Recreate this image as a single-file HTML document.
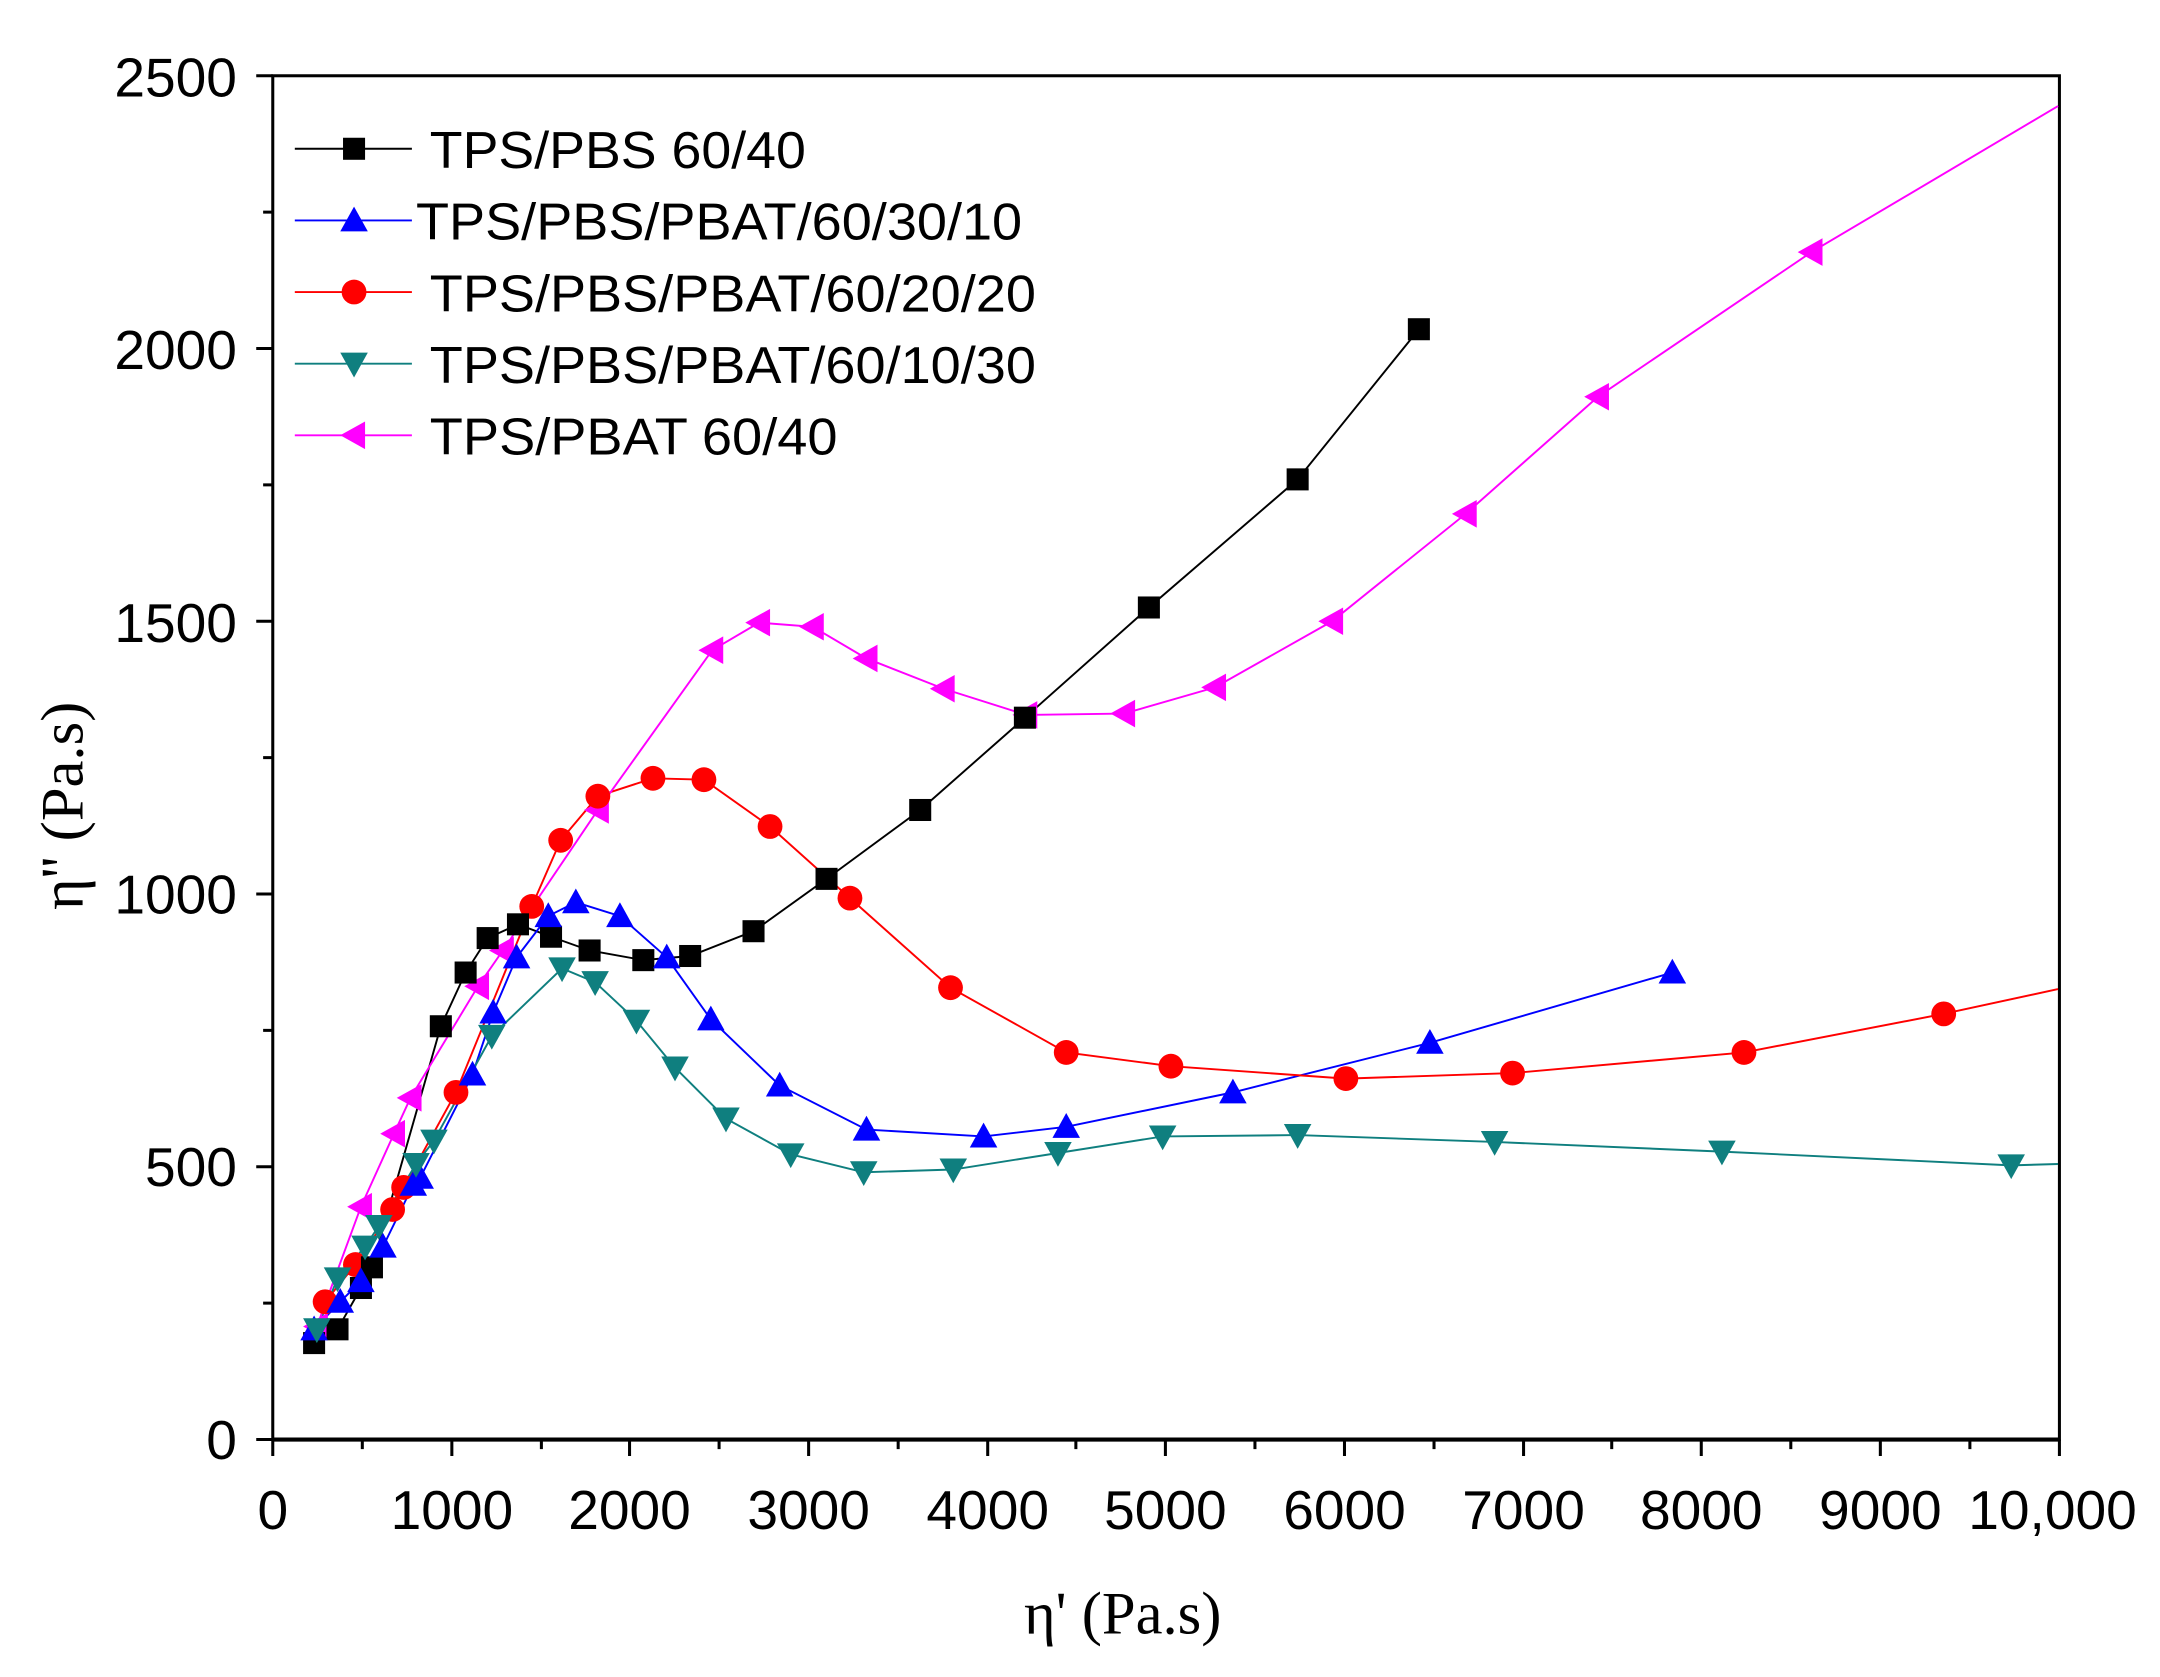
<!DOCTYPE html>
<html><head><meta charset="utf-8"><style>html,body{margin:0;padding:0;background:#fff}svg{display:block}</style></head>
<body>
<svg width="2160" height="1677" viewBox="0 0 1568 1217.4" xmlns="http://www.w3.org/2000/svg">
<defs>
<rect id="sq" x="-8" y="-8" width="16" height="16" fill="#000"/>
<polygon id="tu" points="0,-10 10,8 -10,8" fill="#0000ff"/>
<circle id="ci" r="9" fill="#ff0000"/>
<polygon id="td" points="-10,-8 10,-8 0,10" fill="#0f7f7f"/>
<polygon id="tl" points="-10,0 8,-10 8,10" fill="#ff00ff"/>
</defs>
<g font-family="Liberation Sans, Arial, sans-serif" font-size="40" fill="#000">
<g text-anchor="end">
<text x="172" y="1059">0</text><text x="172" y="861">500</text><text x="172" y="663">1000</text><text x="172" y="466">1500</text><text x="172" y="268">2000</text><text x="172" y="70">2500</text>
</g>
<g text-anchor="middle">
<text x="198" y="1110">0</text><text x="328" y="1110">1000</text><text x="457" y="1110">2000</text><text x="587" y="1110">3000</text><text x="717" y="1110">4000</text><text x="846" y="1110">5000</text><text x="976" y="1110">6000</text><text x="1106" y="1110">7000</text><text x="1235" y="1110">8000</text><text x="1365" y="1110">9000</text><text x="1490" y="1110">10,000</text>
</g>
</g>
<g font-family="Liberation Serif, Times New Roman, serif" font-size="44" fill="#000">
<text x="815" y="1186" text-anchor="middle">η' (Pa.s)</text>
<text transform="translate(60,585) rotate(-90)" text-anchor="middle">η'' (Pa.s)</text>
</g>
<g stroke="#000" stroke-width="2.2" fill="none">
<rect x="198" y="55" width="1297" height="990"/>
<line x1="198" y1="1045" x2="1495" y2="1045" stroke-width="3"/>
<path d="M198,1045h-12M198,847h-12M198,649h-12M198,451h-12M198,253h-12M198,55h-12M198,946h-7M198,748h-7M198,550h-7M198,352h-7M198,154h-7"/>
<path d="M198,1045v12M328,1045v12M457,1045v12M587,1045v12M717,1045v12M846,1045v12M976,1045v12M1106,1045v12M1235,1045v12M1365,1045v12M1495,1045v12M263,1045v7M393,1045v7M522,1045v7M652,1045v7M781,1045v7M911,1045v7M1041,1045v7M1170,1045v7M1300,1045v7M1430,1045v7"/>
</g>
<g fill="none" stroke-width="1.4">
<polyline stroke="#000" points="228,975 245,965 262,935 270,920 320,745 338,706 354,681 376,671 400,680 428,690 467,697 501,694 547,676 600,638 668,588 744,521 834,441 942,348 1030,239"/>
<polyline stroke="#0000ff" points="228,965 247,945 262,930 278,905 300,860 305,855 343,780 358,735 375,695 398,665 418,655 450,665 484,695 516,740 566,788 629,820 714,825 774,818 895,793 1038,757 1214,706"/>
<polyline stroke="#ff0000" points="236,945 258,918 285,878 293,862 331,793 386,658 407,610 434,578 474,565 511,566 559,600 617,652 690,717 774,764 850,774 977,783 1098,779 1266,764 1411,736 1494,718"/>
<polyline stroke="#0f7f7f" points="230,965 245,928 265,905 275,890 302,845 315,828 357,752 408,703 432,713 462,741 490,775 527,812 574,838 627,851 692,849 768,837 844,825 942,824 1085,829 1250,836 1460,846 1494,845"/>
<polyline stroke="#ff00ff" points="230,963 262,876 286,823 298,797 347,716 365,690 434,588 517,472 551,452 590,455 629,478 685,500 745,519 816,518 882,499 967,451 1064,373 1160,288 1315,183 1494,77"/>
</g>
<g>
<use href="#tl" x="230" y="963"/><use href="#tl" x="262" y="876"/><use href="#tl" x="286" y="823"/><use href="#tl" x="298" y="797"/><use href="#tl" x="347" y="716"/><use href="#tl" x="365" y="690"/><use href="#tl" x="434" y="588"/><use href="#tl" x="517" y="472"/><use href="#tl" x="551" y="452"/><use href="#tl" x="590" y="455"/><use href="#tl" x="629" y="478"/><use href="#tl" x="685" y="500"/><use href="#tl" x="745" y="519"/><use href="#tl" x="816" y="518"/><use href="#tl" x="882" y="499"/><use href="#tl" x="967" y="451"/><use href="#tl" x="1064" y="373"/><use href="#tl" x="1160" y="288"/><use href="#tl" x="1315" y="183"/>
<use href="#ci" x="236" y="945"/><use href="#ci" x="258" y="918"/><use href="#ci" x="285" y="878"/><use href="#ci" x="293" y="862"/><use href="#ci" x="331" y="793"/><use href="#ci" x="386" y="658"/><use href="#ci" x="407" y="610"/><use href="#ci" x="434" y="578"/><use href="#ci" x="474" y="565"/><use href="#ci" x="511" y="566"/><use href="#ci" x="559" y="600"/><use href="#ci" x="617" y="652"/><use href="#ci" x="690" y="717"/><use href="#ci" x="774" y="764"/><use href="#ci" x="850" y="774"/><use href="#ci" x="977" y="783"/><use href="#ci" x="1098" y="779"/><use href="#ci" x="1266" y="764"/><use href="#ci" x="1411" y="736"/>
<use href="#sq" x="228" y="975"/><use href="#sq" x="245" y="965"/><use href="#sq" x="262" y="935"/><use href="#sq" x="270" y="920"/><use href="#sq" x="320" y="745"/><use href="#sq" x="338" y="706"/><use href="#sq" x="354" y="681"/><use href="#sq" x="376" y="671"/><use href="#sq" x="400" y="680"/><use href="#sq" x="428" y="690"/><use href="#sq" x="467" y="697"/><use href="#sq" x="501" y="694"/><use href="#sq" x="547" y="676"/><use href="#sq" x="600" y="638"/><use href="#sq" x="668" y="588"/><use href="#sq" x="744" y="521"/><use href="#sq" x="834" y="441"/><use href="#sq" x="942" y="348"/><use href="#sq" x="1030" y="239"/>
<use href="#tu" x="228" y="965"/><use href="#tu" x="247" y="945"/><use href="#tu" x="262" y="930"/><use href="#tu" x="278" y="905"/><use href="#tu" x="300" y="860"/><use href="#tu" x="305" y="855"/><use href="#tu" x="343" y="780"/><use href="#tu" x="358" y="735"/><use href="#tu" x="375" y="695"/><use href="#tu" x="398" y="665"/><use href="#tu" x="418" y="655"/><use href="#tu" x="450" y="665"/><use href="#tu" x="484" y="695"/><use href="#tu" x="516" y="740"/><use href="#tu" x="566" y="788"/><use href="#tu" x="629" y="820"/><use href="#tu" x="714" y="825"/><use href="#tu" x="774" y="818"/><use href="#tu" x="895" y="793"/><use href="#tu" x="1038" y="757"/><use href="#tu" x="1214" y="706"/>
<use href="#td" x="230" y="965"/><use href="#td" x="245" y="928"/><use href="#td" x="265" y="905"/><use href="#td" x="275" y="890"/><use href="#td" x="302" y="845"/><use href="#td" x="315" y="828"/><use href="#td" x="357" y="752"/><use href="#td" x="408" y="703"/><use href="#td" x="432" y="713"/><use href="#td" x="462" y="741"/><use href="#td" x="490" y="775"/><use href="#td" x="527" y="812"/><use href="#td" x="574" y="838"/><use href="#td" x="627" y="851"/><use href="#td" x="692" y="849"/><use href="#td" x="768" y="837"/><use href="#td" x="844" y="825"/><use href="#td" x="942" y="824"/><use href="#td" x="1085" y="829"/><use href="#td" x="1250" y="836"/><use href="#td" x="1460" y="846"/>
</g>
<g stroke-width="1.4">
<line x1="214" y1="108" x2="299" y2="108" stroke="#000"/>
<line x1="214" y1="160" x2="299" y2="160" stroke="#0000ff"/>
<line x1="214" y1="212" x2="299" y2="212" stroke="#ff0000"/>
<line x1="214" y1="264" x2="299" y2="264" stroke="#0f7f7f"/>
<line x1="214" y1="316" x2="299" y2="316" stroke="#ff00ff"/>
</g>
<use href="#sq" x="257" y="108"/><use href="#tu" x="257" y="160"/><use href="#ci" x="257" y="212"/><use href="#td" x="257" y="264"/><use href="#tl" x="257" y="316"/>
<g font-family="Liberation Sans, Arial, sans-serif" font-size="38" fill="#000">
<text x="312" y="122" textLength="273" lengthAdjust="spacingAndGlyphs">TPS/PBS 60/40</text>
<text x="302" y="174" textLength="440" lengthAdjust="spacingAndGlyphs">TPS/PBS/PBAT/60/30/10</text>
<text x="312" y="226" textLength="440" lengthAdjust="spacingAndGlyphs">TPS/PBS/PBAT/60/20/20</text>
<text x="312" y="278" textLength="440" lengthAdjust="spacingAndGlyphs">TPS/PBS/PBAT/60/10/30</text>
<text x="312" y="330" textLength="296" lengthAdjust="spacingAndGlyphs">TPS/PBAT 60/40</text>
</g>
</svg>
</body></html>
